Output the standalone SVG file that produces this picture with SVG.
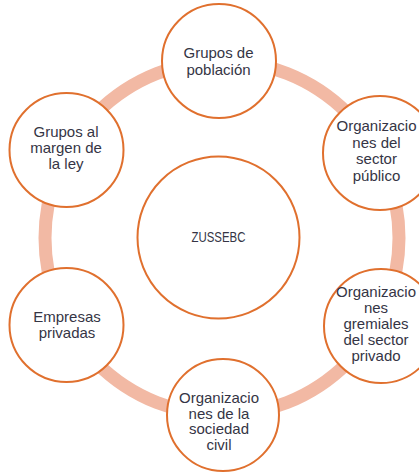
<svg xmlns="http://www.w3.org/2000/svg" width="419" height="472" viewBox="0 0 419 472">
<style>
.node{fill:#fff;stroke:#E0702E;stroke-width:2}
.lbl{font-family:"Liberation Sans",Arial,sans-serif;font-size:15px;fill:#353545;text-anchor:middle}
.ring{fill:none;stroke:#F2B9A4;stroke-width:13}
</style>
<rect width="419" height="472" fill="#fff"/>
<g id="connectors">
<circle class="ring" cx="222" cy="238" r="177"/>
</g>
<g id="center">
<circle class="node" cx="218.5" cy="237.5" r="81"/>
<text class="lbl" x="218.5" y="242" font-size="14" textLength="54" lengthAdjust="spacingAndGlyphs">ZUSSEBC</text>
</g>
<g id="n-top">
<circle class="node" cx="219" cy="61" r="57"/>
<text class="lbl" x="218.5" y="58">Grupos de</text>
<text class="lbl" x="218.5" y="74.5">población</text>
</g>
<g id="n-topright">
<circle class="node" cx="380" cy="153" r="57"/>
<text class="lbl" x="376.5" y="131">Organizacio</text>
<text class="lbl" x="376.5" y="147.5">nes del</text>
<text class="lbl" x="376.5" y="164">sector</text>
<text class="lbl" x="376.5" y="180.5">público</text>
</g>
<g id="n-bottomright">
<circle class="node" cx="381" cy="326" r="57"/>
<text class="lbl" x="376" y="297">Organizacio</text>
<text class="lbl" x="376" y="313">nes</text>
<text class="lbl" x="376" y="329">gremiales</text>
<text class="lbl" x="376" y="345">del sector</text>
<text class="lbl" x="376" y="361">privado</text>
</g>
<g id="n-bottom">
<circle class="node" cx="223" cy="415" r="56"/>
<text class="lbl" x="219" y="403">Organizacio</text>
<text class="lbl" x="219" y="418.5">nes de la</text>
<text class="lbl" x="219" y="434">sociedad</text>
<text class="lbl" x="219" y="450">civil</text>
</g>
<g id="n-bottomleft">
<circle class="node" cx="66.5" cy="325" r="57"/>
<text class="lbl" x="67" y="322">Empresas</text>
<text class="lbl" x="67" y="338">privadas</text>
</g>
<g id="n-topleft">
<circle class="node" cx="66.5" cy="150" r="57"/>
<text class="lbl" x="66" y="137">Grupos al</text>
<text class="lbl" x="66" y="153">margen de</text>
<text class="lbl" x="66" y="169">la ley</text>
</g>
</svg>
